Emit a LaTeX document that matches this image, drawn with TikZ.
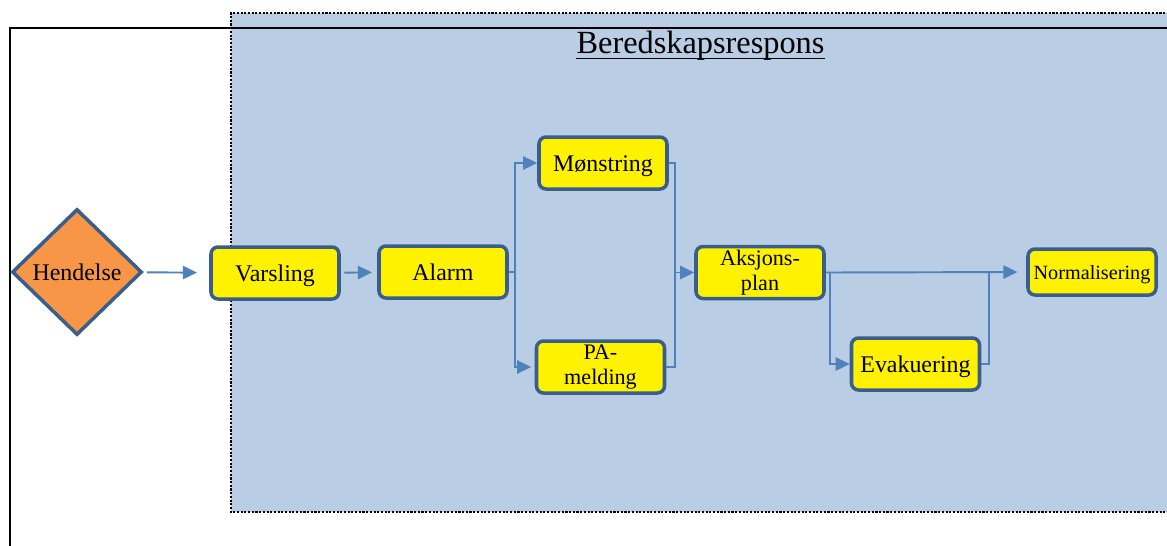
\documentclass[tikz,border=0pt]{standalone}
\usepackage{fontspec}
\setmainfont{Liberation Serif}
\usetikzlibrary{shapes.geometric,arrows.meta}
\definecolor{respons}{RGB}{185,205,228}
\definecolor{kant}{RGB}{58,94,140}
\definecolor{pil}{RGB}{79,129,189}
\definecolor{oransje}{RGB}{247,150,70}

\begin{document}
\begin{tikzpicture}[
  grunn/.style={draw=kant,line width=2pt,fill=yellow,rounded corners=4pt,minimum width=2.56cm,minimum height=1.04cm,align=center,inner sep=1pt},
  boks/.style={grunn,text height=12pt,text depth=2pt,font=\fontsize{13.6}{15}\selectfont},
  toboks/.style={grunn,font=\fontsize{12.6}{14.2}\selectfont},
  flow/.style={draw=pil,line width=1.1pt,-{Triangle[length=8pt,width=7.5pt]}},
  linje/.style={draw=pil,line width=1.1pt},
  prikket/.style={draw=black,line width=1.3pt,dash pattern=on 1.2pt off 0.9pt}]

\useasboundingbox (0,0) rectangle (23.34,-10.9);
\clip (0,0) rectangle (23.34,-10.9);

\fill[respons] (4.62,-0.26) rectangle (23.6,-10.24);
\draw[prikket] (23.6,-0.26) -- (4.62,-0.26) -- (4.62,-10.24) -- (23.6,-10.24);
\draw[line width=1.1pt] (0.2,-11) -- (0.2,-0.56) -- (23.6,-0.56);

\node[anchor=base,inner sep=0pt,font=\fontsize{18.4}{20}\selectfont](tittel) at (14.01,-1.06){Beredskapsrespons};
\draw[line width=0.8pt] ([yshift=-3pt]tittel.base west) -- ([yshift=-3pt]tittel.base east);

\node[diamond,draw=kant,line width=2pt,fill=oransje,inner sep=0pt,minimum width=2.6cm,minimum height=2.52cm,font=\fontsize{13.6}{15}\selectfont](hendelse) at (1.54,-5.44){Hendelse};
\node[boks](varsling) at (5.5,-5.46){Varsling};
\node[boks](alarm) at (8.86,-5.44){Alarm};
\node[boks](monstring) at (12.06,-3.26){Mønstring};
\node[toboks](pamelding) at (12.01,-7.34){PA-\\melding};
\node[toboks](aksjon) at (15.2,-5.45){Aksjons-\\plan};
\node[boks](evak) at (18.31,-7.28){Evakuering};
\node[boks,minimum height=0.92cm,text height=10pt,font=\fontsize{11.5}{13}\selectfont](normal) at (21.84,-5.44){Normalisering};

\coordinate (delA) at (10.3,0);
\coordinate (samA) at (13.5,0);
\coordinate (delB) at (16.6,0);
\coordinate (samB) at (19.78,0);

\draw[flow,shorten <=2pt,shorten >=7pt](hendelse)--(varsling);
\draw[flow,shorten <=2pt,shorten >=3pt](varsling)--(alarm);
\draw[flow](alarm.east)--(alarm.east -| delA) |- (monstring.west);
\draw[flow,shorten >=2pt](alarm.east -| delA) |- (pamelding.west);
\draw[linje](monstring.east) -| (samA |- pamelding.east) -- (pamelding.east);
\draw[flow](samA |- aksjon.west)--(aksjon.west);
\draw[flow,shorten >=5pt](aksjon.east)--(normal.west);
\draw[flow](delB |- aksjon.east) |- (evak.west);
\draw[linje](evak.east) -| (samB |- normal.west);

\end{tikzpicture}
\end{document}
